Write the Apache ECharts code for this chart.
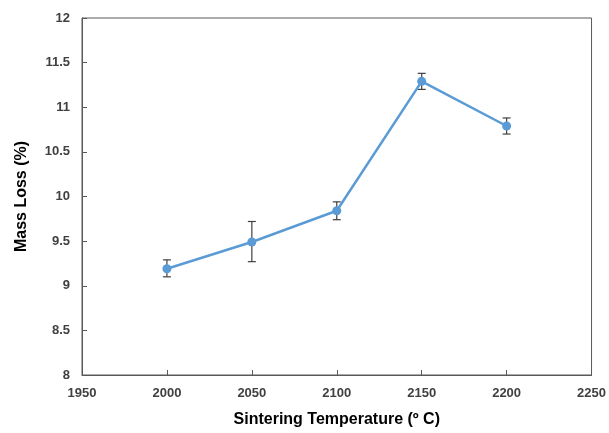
<!DOCTYPE html>
<html><head><meta charset="utf-8">
<script src="https://cdn.jsdelivr.net/npm/echarts@6/dist/echarts.min.js"></script>
<style>html,body{margin:0;padding:0;background:#fff}#c{width:609px;height:433px}</style>
</head><body><div id="c"></div>
<script>
const temperatures = [2000, 2050, 2100, 2150, 2200];
const massLoss = [9.19, 9.49, 9.84, 11.29, 10.79];
const errLow = [9.1, 9.27, 9.74, 11.2, 10.7];
const errHigh = [9.29, 9.72, 9.94, 11.38, 10.88];

const chart = echarts.init(document.getElementById('c'));
const font = 'Liberation Sans';
chart.setOption({
  animation: false,
  grid: {left: 82, right: 17, top: 18, bottom: 56, show: true, borderColor: '#595959', borderWidth: 1},
  xAxis: {
    type: 'value', min: 1950, max: 2250, interval: 50,
    name: 'Sintering Temperature (º C)', nameLocation: 'middle', nameGap: 37,
    nameTextStyle: {fontFamily: font, fontWeight: 'bold', fontSize: 16, color: '#000'},
    axisLine: {lineStyle: {color: '#595959'}},
    axisTick: {inside: true, length: 5, lineStyle: {color: '#595959'}},
    axisLabel: {fontFamily: font, fontWeight: 'bold', fontSize: 13, color: '#404040', margin: 12,
      formatter: v => String(v)},
    splitLine: {show: false}
  },
  yAxis: {
    type: 'value', min: 8, max: 12, interval: 0.5,
    name: 'Mass Loss (%)', nameLocation: 'middle', nameGap: 52, nameRotate: 90,
    nameTextStyle: {fontFamily: font, fontWeight: 'bold', fontSize: 16, color: '#000'},
    axisLine: {lineStyle: {color: '#595959'}},
    axisTick: {inside: true, length: 5, lineStyle: {color: '#595959'}},
    axisLabel: {fontFamily: font, fontWeight: 'bold', fontSize: 13, color: '#404040', margin: 12},
    splitLine: {show: false}
  },
  series: [
    {
      type: 'custom',
      data: temperatures.map((t, i) => [t, errLow[i], errHigh[i]]),
      renderItem: function (params, api) {
        const lo = api.coord([api.value(0), api.value(1)]);
        const hi = api.coord([api.value(0), api.value(2)]);
        const w = 4;
        const style = {stroke: '#404040', lineWidth: 1.2};
        return {type: 'group', children: [
          {type: 'line', shape: {x1: lo[0], y1: lo[1], x2: hi[0], y2: hi[1]}, style: style},
          {type: 'line', shape: {x1: lo[0]-w, y1: lo[1], x2: lo[0]+w, y2: lo[1]}, style: style},
          {type: 'line', shape: {x1: hi[0]-w, y1: hi[1], x2: hi[0]+w, y2: hi[1]}, style: style}
        ]};
      },
      z: 1
    },
    {
      type: 'line',
      data: temperatures.map((t, i) => [t, massLoss[i]]),
      symbol: 'circle', symbolSize: 9,
      lineStyle: {color: '#5B9BD5', width: 2.5},
      itemStyle: {color: '#5B9BD5'},
      z: 3
    }
  ]
});
</script></body></html>
